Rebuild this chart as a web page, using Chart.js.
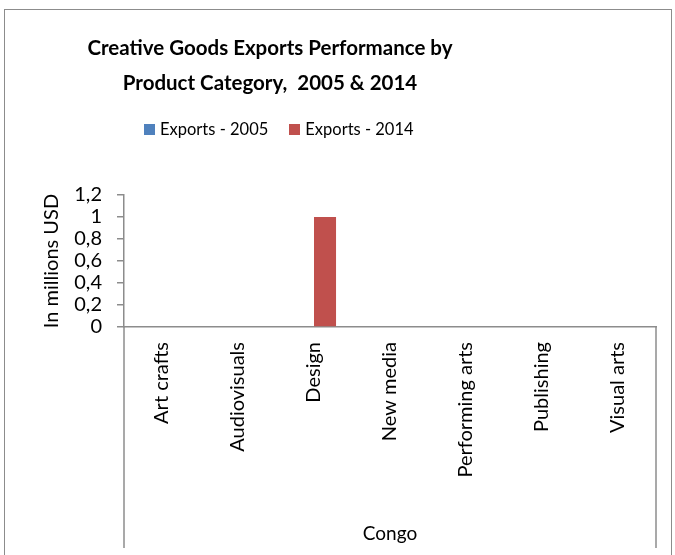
<!DOCTYPE html>
<html>
<head>
<meta charset="utf-8">
<script src="https://cdn.jsdelivr.net/npm/chart.js@4"></script>
<style>
  html, body { margin: 0; padding: 0; background: #fff; }
  #wrap { position: relative; width: 675px; height: 555px; overflow: hidden; font-family: Lato, "Noto Sans", sans-serif; }
  #frame { position: absolute; left: 4px; top: 9px; width: 668px; height: 600px; border: 1.5px solid #8c8c8c; box-sizing: border-box; }
  #title { position: absolute; left: 20px; width: 500px; top: 30px; text-align: center; font-weight: bold; font-size: 20.5px; line-height: 35px; color: #000; }
  #legend { position: absolute; left: 144px; top: 119px; display: flex; font-size: 16.5px; color: #000; }
  #legend .item { display: flex; align-items: center; margin-right: 21px; }
  #legend .box { width: 11px; height: 11px; margin-right: 5px; }
  canvas { position: absolute; left: 0; top: 0; }
</style>
</head>
<body>
<div id="wrap">
  <canvas id="chart" width="675" height="555"></canvas>
  <div id="frame"></div>
  <div id="title">Creative Goods Exports Performance by<br>Product Category,&nbsp; 2005 &amp; 2014</div>
  <div id="legend"></div>
</div>
<script>
// Chart data
const categories = ['Art crafts', 'Audiovisuals', 'Design', 'New media', 'Performing arts', 'Publishing', 'Visual arts'];
const exports2005 = [0, 0, 0, 0, 0, 0, 0];
const exports2014 = [0, 0, 1, 0, 0, 0, 0];
const yTickLabels = ['0', '0,2', '0,4', '0,6', '0,8', '1', '1,2'];
const groupLabel = 'Congo';

const axisGrey = '#8c8c8c';

// Legend built from the datasets
const htmlLegend = {
    id: 'htmlLegend',
    afterUpdate(chart) {
        const legend = document.getElementById('legend');
        legend.innerHTML = '';
        chart.data.datasets.forEach(ds => {
            const item = document.createElement('div');
            item.className = 'item';
            item.innerHTML = `<span class="box" style="background:${ds.backgroundColor}"></span><span>${ds.label}</span>`;
            legend.appendChild(item);
        });
    }
};

// Vertical separators of the category group, like Excel's multi-level axis
const groupLines = {
    id: 'groupLines',
    afterDraw(chart) {
        const { ctx, chartArea } = chart;
        const x = chart.scales.x;
        ctx.save();
        ctx.strokeStyle = axisGrey;
        ctx.lineWidth = 1.5;
        [chartArea.left, chartArea.right].forEach(px => {
            ctx.beginPath();
            ctx.moveTo(px, chartArea.bottom);
            ctx.lineTo(px, x.bottom);
            ctx.stroke();
        });
        ctx.restore();
    }
};

const chart = new Chart(
    document.getElementById('chart'),
    {
        type: 'bar',
        data: {
            labels: categories,
            datasets: [
                {
                    label: 'Exports - 2005',
                    data: exports2005,
                    backgroundColor: '#4F81BD'
                },
                {
                    label: 'Exports - 2014',
                    data: exports2014,
                    backgroundColor: '#C0504D'
                }
            ]
        },
        options: {
            responsive: false,
            animation: false,
            categoryPercentage: 0.58,
            barPercentage: 1,
            layout: {
                padding: { left: 30, top: 195, right: 19, bottom: 7 }
            },
            plugins: {
                legend: { display: false },
                title: { display: false },
                tooltip: { enabled: false }
            },
            scales: {
                x: {
                    afterFit(scale) { scale.height = 221; },
                    grid: { display: false, drawTicks: false },
                    border: { display: true, color: axisGrey, width: 1.5 },
                    ticks: {
                        autoSkip: false,
                        minRotation: 90,
                        maxRotation: 90,
                        padding: 15,
                        color: '#000',
                        font: { family: 'Lato', size: 20 }
                    },
                    title: {
                        display: true,
                        text: groupLabel,
                        color: '#000',
                        font: { family: 'Lato', size: 19 },
                        padding: { top: 0, bottom: 3 }
                    }
                },
                y: {
                    min: 0,
                    max: 1.2,
                    afterFit(scale) { scale.width = 94; },
                    grid: {
                        drawOnChartArea: false,
                        drawTicks: true,
                        tickLength: 7,
                        color: axisGrey,
                        lineWidth: 1.5
                    },
                    border: { display: true, color: axisGrey, width: 1.5 },
                    ticks: {
                        autoSkip: false,
                        stepSize: 0.2,
                        padding: 15,
                        color: '#000',
                        font: { family: 'Lato', size: 20 },
                        callback: (value, index) => yTickLabels[index]
                    },
                    title: {
                        display: true,
                        text: 'In millions USD',
                        color: '#000',
                        font: { family: 'Lato', size: 20 },
                        padding: { top: 10, bottom: 0 }
                    }
                }
            }
        },
        plugins: [htmlLegend, groupLines]
    }
);
</script>
</body>
</html>
